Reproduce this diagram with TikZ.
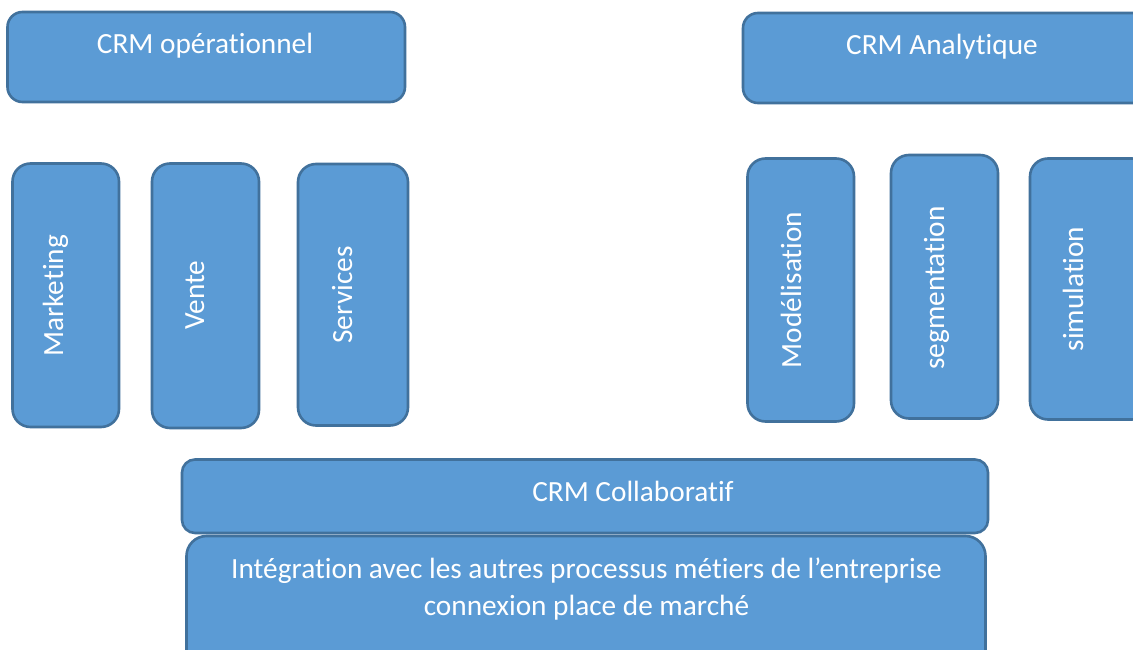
\documentclass[tikz,border=0pt]{standalone}
\usepackage{fontspec}
\setmainfont[Ligatures=NoCommon]{Carlito}
\definecolor{boxfill}{HTML}{5B9BD5}
\definecolor{boxline}{HTML}{41719C}
\tikzset{
  box/.style={fill=boxfill, draw=boxline, line width=2.6pt},
  topbox/.style={box, rounded corners=15pt},
  tallbox/.style={box, rounded corners=18pt},
  wide/.style={box, rounded corners=13pt},
  label/.style={text=white, font=\fontsize{29.3}{35}\selectfont, inner sep=0pt, anchor=base},
  vlabel/.style={label, rotate=90}
}
\begin{document}
\begin{tikzpicture}[x=1pt, y=-1pt]
  \clip (0,0) rectangle (1133,650);
  \fill[white] (0,0) rectangle (1133,650);

  % two header blocks
  \draw[topbox] (7.5,12) rectangle (405,102);
  \node[label] (oper) at (205,54) {CRM opérationnel};
  \draw[topbox] (743,13) rectangle (1150,103);
  \node[label] (anal) at (942,55) {CRM Analytique};

  % operational modules
  \draw[tallbox] (12.5,163.5) rectangle (119,427);
  \node[vlabel] (mkt) at (63,296) {Marketing};
  \draw[tallbox] (152,163.5) rectangle (259,428);
  \node[vlabel] (vente) at (204,295) {Vente};
  \draw[tallbox] (298,164) rectangle (408,425.5);
  \node[vlabel] (serv) at (352,295) {Services};

  % analytical modules
  \draw[tallbox] (747.5,158.5) rectangle (854,421.5);
  \node[vlabel] (model) at (801,290) {Modélisation};
  \draw[tallbox] (891,155) rectangle (998,418.5);
  \node[vlabel] (segm) at (944,288) {segmentation};
  \draw[tallbox] (1030,158.5) rectangle (1150,419.5);
  \node[vlabel] (simu) at (1083,289) {simulation};

  % collaborative layer
  \draw[wide] (182,459.5) rectangle (988,533);
  \node[label] (collab) at (633,501) {CRM Collaboratif};
  \draw[box, rounded corners=20pt] (186.5,536) rectangle (985.5,690);
  \node[label] (integ1) at (586.5,578) {Intégration avec les autres processus métiers de l’entreprise};
  \node[label] (integ2) at (586.5,615.5) {connexion place de marché};
\end{tikzpicture}
\end{document}
